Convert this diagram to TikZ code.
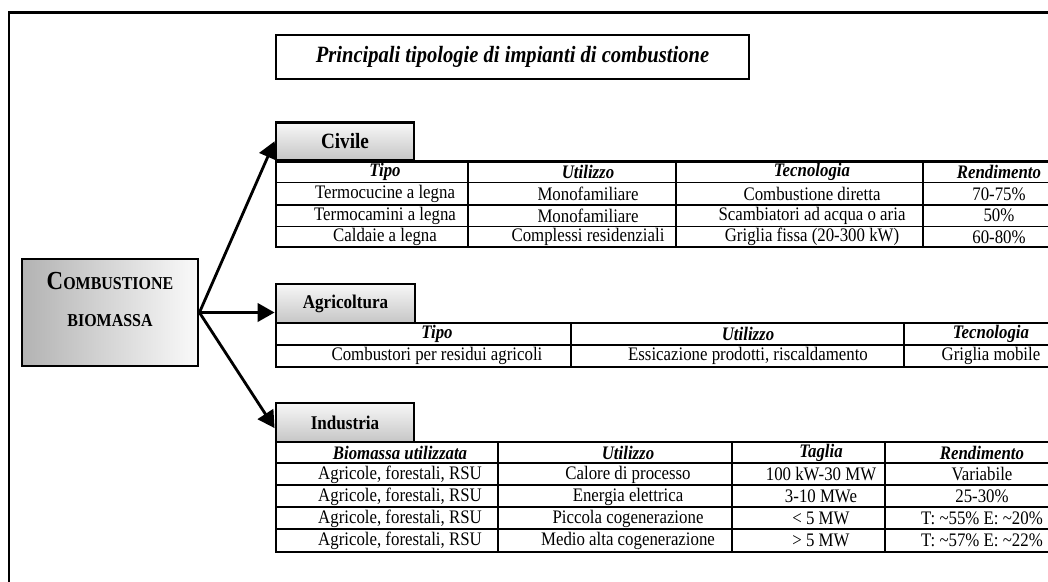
\documentclass[tikz,border=0pt]{standalone}
\usepackage{fontspec}
\setmainfont{Liberation Serif}[FakeStretch=0.88]
\usetikzlibrary{arrows.meta}

\tikzset{
  titlebox/.style={draw, line width=2pt, minimum width=11.825cm, minimum height=1.1cm,
    font=\bfseries\itshape\fontsize{16.6}{19}\selectfont},
  headbox/.style={draw, line width=2pt, top color=gray!6, bottom color=gray!45,
    minimum width=3.45cm, minimum height=0.95cm, inner sep=0pt,
    font=\bfseries\fontsize{13.8}{16}\selectfont},
  mainbox/.style={draw, line width=2pt, left color=gray!60, right color=gray!4,
    minimum width=4.4cm, minimum height=2.675cm},
  cell/.style={inner sep=0pt, font=\fontsize{13.6}{15}\selectfont},
  colhead/.style={inner sep=0pt, font=\bfseries\itshape\fontsize{13.6}{15}\selectfont},
  rule/.style={line width=1.8pt},
  midrule/.style={line width=1.4pt},
  grid/.style={line width=0.9pt},
  branch/.style={line width=2pt, -{Triangle[length=12pt,width=13pt]}},
}

\begin{document}
\begin{tikzpicture}[x=0.025cm, y=-0.025cm]
\useasboundingbox (0,0) rectangle (1048,581);
\clip (0,0) rectangle (1048,581);

% Page frame
\draw[line width=1.4pt] (9,600) -- (9,12.7);
\draw[line width=2.2pt] (8.2,12.7) -- (1060,12.7);

% Title
\node[titlebox] (title) at (512.5,57) {Principali tipologie di impianti di combustione};

% Main box
\node[mainbox] (main) at (110,312.5) {};
\node[anchor=base, font=\bfseries] (mainup) at (110,289)
  {{\fontsize{18.5}{20}\selectfont C}{\fontsize{12.9}{14}\selectfont OMBUSTIONE}};
\node[anchor=base, font=\bfseries\fontsize{12.9}{14}\selectfont] (maindown) at (110,326) {BIOMASSA};

% Section headers
\node[headbox, font=\bfseries\fontsize{15.5}{17}\selectfont, minimum height=0.93cm] (civ) at (345,141.3) {Civile};
\node[headbox, minimum width=3.475cm, minimum height=0.975cm] (agri) at (345.5,303.5) {Agricoltura};
\node[headbox, minimum height=0.975cm] (ind) at (345,422.5) {Industria};

% Arrows
\draw[branch] (main.east) -- (civ.west);
\draw[branch] (main.east) -- (main.east -| agri.west);
\draw[branch] (main.east) -- ([yshift=-4pt]ind.west);

% Civile table
\draw[rule] (276,160) -- (276,247) -- (1060,247);
\draw[rule] (276,161.5) -- (1060,161.5);
\foreach \y in {182.5,205,226.7}
  \draw[grid] (276,\y) -- (1060,\y);
\foreach \x in {468,676,923}
  \draw[rule] (\x,161.5) -- (\x,247);

\foreach \txt/\x [count=\i] in {Tipo/385, Utilizzo/588, Tecnologia/812, Rendimento/999}
  \node[colhead] (civh\i) at (\x,172) {\txt};

\foreach \a/\b/\c/\d [count=\r] in {
    {Termocucine a legna}/Monofamiliare/{Combustione diretta}/{70-75\%},
    {Termocamini a legna}/Monofamiliare/{Scambiatori ad acqua o aria}/{50\%},
    {Caldaie a legna}/{Complessi residenziali}/{Griglia fissa (20-300 kW)}/{60-80\%}}
{
  \node[cell] (civ\r a) at (385,172.5+21.5*\r) {\a};
  \node[cell] (civ\r b) at (588,172.5+21.5*\r) {\b};
  \node[cell] (civ\r c) at (812,172.5+21.5*\r) {\c};
  \node[cell] (civ\r d) at (999,172.5+21.5*\r) {\d};
}

% Agricoltura table
\draw[rule] (276,323) -- (276,367) -- (1060,367);
\draw[rule] (276,323) -- (1060,323);
\draw[rule] (276,345) -- (1060,345);
\foreach \x in {571,904}
  \draw[rule] (\x,323) -- (\x,367);

\foreach \txt/\x [count=\i] in {Tipo/437, Utilizzo/748, Tecnologia/991}
  \node[colhead] (agrih\i) at (\x,334) {\txt};

\node[cell] (agri1a) at (437,356) {Combustori per residui agricoli};
\node[cell] (agri1b) at (748,356) {Essicazione prodotti, riscaldamento};
\node[cell] (agri1c) at (991,356) {Griglia mobile};

% Industria table
\draw[rule] (276,442) -- (276,552) -- (1060,552);
\draw[rule] (276,442) -- (1060,442);
\foreach \y in {463,485,507,529}
  \draw[midrule] (276,\y) -- (1060,\y);
\foreach \x in {498,732,885}
  \draw[rule] (\x,442) -- (\x,552);

\foreach \txt/\x [count=\i] in {Biomassa utilizzata/400, Utilizzo/628, Taglia/821, Rendimento/982}
  \node[colhead] (indh\i) at (\x,452.5) {\txt};

\foreach \b/\c/\d [count=\r] in {
    {Calore di processo}/{100 kW-30 MW}/Variabile,
    {Energia elettrica}/{3-10 MWe}/{25-30\%},
    {Piccola cogenerazione}/{< 5 MW}/{T: \textasciitilde55\% E: \textasciitilde20\%},
    {Medio alta cogenerazione}/{> 5 MW}/{T: \textasciitilde57\% E: \textasciitilde22\%}}
{
  \node[cell] (ind\r a) at (400,452.5+22*\r) {Agricole, forestali, RSU};
  \node[cell] (ind\r b) at (628,452.5+22*\r) {\b};
  \node[cell] (ind\r c) at (821,452.5+22*\r) {\c};
  \node[cell] (ind\r d) at (982,452.5+22*\r) {\d};
}

\end{tikzpicture}
\end{document}
